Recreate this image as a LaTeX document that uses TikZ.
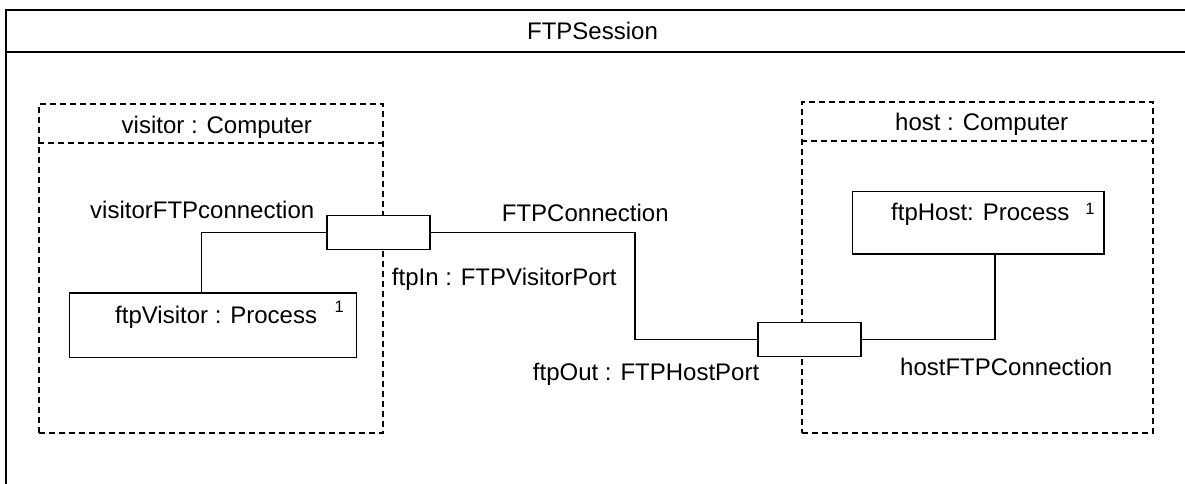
\documentclass[tikz,border=0pt]{standalone}
\usepackage{fontspec}
\setmainfont{Liberation Sans}
\begin{document}
\begin{tikzpicture}[x=1pt,y=-1pt,
  txt/.style={font=\fontsize{24}{28}\selectfont, inner sep=0pt, anchor=base west},
  mult/.style={font=\fontsize{16.5}{19}\selectfont, inner sep=0pt, anchor=base},
  dashline/.style={dash pattern=on 6pt off 4pt, line width=1.7pt},
  part/.style={draw, dashline, anchor=north west, inner sep=0pt},
  proc/.style={draw, line width=1.3pt, anchor=north west, inner sep=0pt, fill=white},
  port/.style={draw, line width=1.3pt, fill=white, inner sep=0pt, minimum width=103pt, minimum height=34pt},
  wire/.style={line width=1.3pt}]
\useasboundingbox (0,0) rectangle (1185,484);
\fill[white] (0,0) rectangle (1185,484);

% structured classifier frame (runs off the right and bottom edges)
\draw[line width=1.8pt] (1186,10) -- (6,10) -- (6,485);
\draw[line width=1.8pt] (6,52) -- (1186,52);
\node[font=\fontsize{24}{28}\selectfont, inner sep=0pt, anchor=base] (title) at (592.5,40) {FTPSession};

% parts
\node[part, minimum width=344pt, minimum height=329pt] (visitor) at (38,103) {};
\draw[dashline] ([yshift=-40pt]visitor.north west) -- ([yshift=-40pt]visitor.north east);
\node[txt] (visitorlbl) at (121.5,134) {visitor : Computer};

\node[part, minimum width=351pt, minimum height=331pt] (host) at (801,101) {};
\draw[dashline] ([yshift=-40pt]host.north west) -- ([yshift=-40pt]host.north east);
\node[txt] (hostlbl) at (895,130.7) {host : Computer};

% inner processes
\node[proc, minimum width=287pt, minimum height=64.5pt] (visproc) at (69,292.3) {};
\node[txt] (visproclbl) at (115,323.3) {ftpVisitor : Process};
\node[mult] (vismult) at (339.3,312.7) {1};

\node[proc, minimum width=251.5pt, minimum height=62.6pt] (hostproc) at (851.7,190.7) {};
\node[txt] (hostproclbl) at (891,220) {ftpHost: Process};
\node[mult] (hostmult) at (1090,214) {1};

% ports on the part boundaries
\node[port] (ftpin) at (378.4,232.2) {};
\node[port] (ftpout) at (809.5,339.4) {};

% connectors
\coordinate (bend) at (635,290);
\draw[wire] ([xshift=132.7pt]visproc.north west) |- (ftpin.west);
\draw[wire] (ftpin.east) -| (bend) |- (ftpout.west);
\draw[wire] (ftpout.east) -| ([xshift=143.3pt]hostproc.south west);

% connector and port labels
\node[txt] (visconnlbl) at (90,218.5) {visitorFTPconnection};
\node[txt] (ftpconnlbl) at (501.7,221.3) {FTPConnection};
\node[txt] (ftpinlbl) at (391.7,285.4) {ftpIn : FTPVisitorPort};
\node[txt] (ftpoutlbl) at (532.7,380.3) {ftpOut : FTPHostPort};
\node[txt] (hostconnlbl) at (900,375.7) {hostFTPConnection};
\end{tikzpicture}
\end{document}
